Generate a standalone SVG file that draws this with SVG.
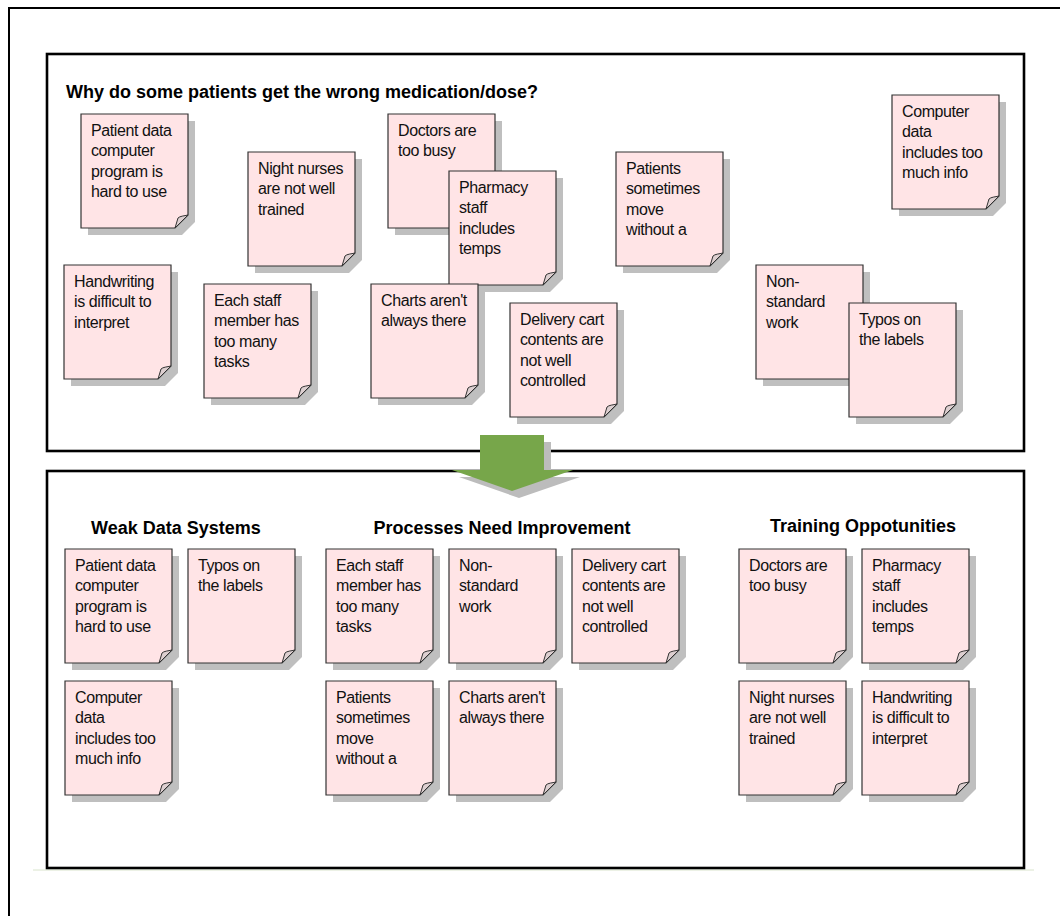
<svg xmlns="http://www.w3.org/2000/svg" width="1060" height="916" viewBox="0 0 1060 916">
  <style>
    .frame { fill: none; stroke: #000; stroke-width: 2; }
    .panel { fill: none; stroke: #000; stroke-width: 2.6; }
    .paper { fill: #ffe4e6; stroke: #333; stroke-width: 1.2; }
    .shadow { fill: #bfbfbf; }
    .fold { fill: #ddcfd0; stroke: #333; stroke-width: 1; }
    .nt { font-family: "Liberation Sans", Arial, sans-serif; font-size: 16px; letter-spacing: -0.4px; fill: #111; }
    .hd { font-family: "Liberation Sans", Arial, sans-serif; font-size: 18px; font-weight: bold; fill: #000; }
  </style>
  <defs>
    <!-- sticky note: 107 x 114 with a cut bottom-right corner -->
    <path id="paper" d="M0,0 H107 V101 L94,114 H0 Z"/>
    <path id="fold" d="M107,101 C103,102 99,102 97,104 C96,107 95,111 94,114 Z"/>
    <g id="note-base">
      <use href="#paper" class="shadow" transform="translate(7,7)"/>
      <use href="#paper" class="paper"/>
      <use href="#fold" class="fold"/>
    </g>
  </defs>

  <rect width="1060" height="916" fill="#fff"/>

  <!-- outer frame -->
  <path class="frame" d="M9,916 V8 H1060"/>
  <line x1="33" y1="870" x2="1034" y2="870" stroke="#d9e4cc" stroke-width="1"/>

  <!-- panels -->
  <rect class="panel" x="47" y="54" width="977" height="397"/>
  <rect class="panel" x="47" y="471" width="977" height="397"/>

  <!-- down arrow between panels -->
  <g id="arrow">
    <polygon points="487,442 551,442 551,477 580,477 519,498 459,477 487,477" fill="#bcbcbc"/>
    <polygon points="480,435 544,435 544,470 573,470 512,491 452,470 480,470" fill="#77a64a"/>
  </g>

  <text class="hd" x="66" y="98">Why do some patients get the wrong medication/dose?</text>

  <!-- notes: unsorted causes -->
  <g id="n-patient-data-top" transform="translate(81,114)">
    <use href="#note-base"/>
    <text class="nt" y="21.5"><tspan x="10">Patient data</tspan><tspan x="10" dy="20.5">computer</tspan><tspan x="10" dy="20.5">program is</tspan><tspan x="10" dy="20.5">hard to use</tspan></text>
  </g>
  <g id="n-night-nurses-top" transform="translate(248,152)">
    <use href="#note-base"/>
    <text class="nt" y="21.5"><tspan x="10">Night nurses</tspan><tspan x="10" dy="20.5">are not well</tspan><tspan x="10" dy="20.5">trained</tspan></text>
  </g>
  <g id="n-doctors-top" transform="translate(388,114)">
    <use href="#note-base"/>
    <text class="nt" y="21.5"><tspan x="10">Doctors are</tspan><tspan x="10" dy="20.5">too busy</tspan></text>
  </g>
  <g id="n-pharmacy-top" transform="translate(449,171)">
    <use href="#note-base"/>
    <text class="nt" y="21.5"><tspan x="10">Pharmacy</tspan><tspan x="10" dy="20.5">staff</tspan><tspan x="10" dy="20.5">includes</tspan><tspan x="10" dy="20.5">temps</tspan></text>
  </g>
  <g id="n-patients-move-top" transform="translate(616,152)">
    <use href="#note-base"/>
    <text class="nt" y="21.5"><tspan x="10">Patients</tspan><tspan x="10" dy="20.5">sometimes</tspan><tspan x="10" dy="20.5">move</tspan><tspan x="10" dy="20.5">without a</tspan></text>
  </g>
  <g id="n-computer-data-top" transform="translate(892,95)">
    <use href="#note-base"/>
    <text class="nt" y="21.5"><tspan x="10">Computer</tspan><tspan x="10" dy="20.5">data</tspan><tspan x="10" dy="20.5">includes too</tspan><tspan x="10" dy="20.5">much info</tspan></text>
  </g>
  <g id="n-handwriting-top" transform="translate(64,265)">
    <use href="#note-base"/>
    <text class="nt" y="21.5"><tspan x="10">Handwriting</tspan><tspan x="10" dy="20.5">is difficult to</tspan><tspan x="10" dy="20.5">interpret</tspan></text>
  </g>
  <g id="n-each-staff-top" transform="translate(204,284)">
    <use href="#note-base"/>
    <text class="nt" y="21.5"><tspan x="10">Each staff</tspan><tspan x="10" dy="20.5">member has</tspan><tspan x="10" dy="20.5">too many</tspan><tspan x="10" dy="20.5">tasks</tspan></text>
  </g>
  <g id="n-charts-top" transform="translate(371,284)">
    <use href="#note-base"/>
    <text class="nt" y="21.5"><tspan x="10">Charts aren't</tspan><tspan x="10" dy="20.5">always there</tspan></text>
  </g>
  <g id="n-delivery-top" transform="translate(510,303)">
    <use href="#note-base"/>
    <text class="nt" y="21.5"><tspan x="10">Delivery cart</tspan><tspan x="10" dy="20.5">contents are</tspan><tspan x="10" dy="20.5">not well</tspan><tspan x="10" dy="20.5">controlled</tspan></text>
  </g>
  <g id="n-non-standard-top" transform="translate(756,265)">
    <use href="#note-base"/>
    <text class="nt" y="21.5"><tspan x="10">Non-</tspan><tspan x="10" dy="20.5">standard</tspan><tspan x="10" dy="20.5">work</tspan></text>
  </g>
  <g id="n-typos-top" transform="translate(849,303)">
    <use href="#note-base"/>
    <text class="nt" y="21.5"><tspan x="10">Typos on</tspan><tspan x="10" dy="20.5">the labels</tspan></text>
  </g>

  <!-- grouped categories -->
  <text class="hd" x="176" y="534" text-anchor="middle">Weak Data Systems</text>
  <text class="hd" x="502" y="534" text-anchor="middle">Processes Need Improvement</text>
  <text class="hd" x="863" y="532" text-anchor="middle">Training Oppotunities</text>

  <g id="n-patient-data" transform="translate(65,549)">
    <use href="#note-base"/>
    <text class="nt" y="21.5"><tspan x="10">Patient data</tspan><tspan x="10" dy="20.5">computer</tspan><tspan x="10" dy="20.5">program is</tspan><tspan x="10" dy="20.5">hard to use</tspan></text>
  </g>
  <g id="n-typos" transform="translate(188,549)">
    <use href="#note-base"/>
    <text class="nt" y="21.5"><tspan x="10">Typos on</tspan><tspan x="10" dy="20.5">the labels</tspan></text>
  </g>
  <g id="n-computer-data" transform="translate(65,681)">
    <use href="#note-base"/>
    <text class="nt" y="21.5"><tspan x="10">Computer</tspan><tspan x="10" dy="20.5">data</tspan><tspan x="10" dy="20.5">includes too</tspan><tspan x="10" dy="20.5">much info</tspan></text>
  </g>

  <g id="n-each-staff" transform="translate(326,549)">
    <use href="#note-base"/>
    <text class="nt" y="21.5"><tspan x="10">Each staff</tspan><tspan x="10" dy="20.5">member has</tspan><tspan x="10" dy="20.5">too many</tspan><tspan x="10" dy="20.5">tasks</tspan></text>
  </g>
  <g id="n-non-standard" transform="translate(449,549)">
    <use href="#note-base"/>
    <text class="nt" y="21.5"><tspan x="10">Non-</tspan><tspan x="10" dy="20.5">standard</tspan><tspan x="10" dy="20.5">work</tspan></text>
  </g>
  <g id="n-delivery" transform="translate(572,549)">
    <use href="#note-base"/>
    <text class="nt" y="21.5"><tspan x="10">Delivery cart</tspan><tspan x="10" dy="20.5">contents are</tspan><tspan x="10" dy="20.5">not well</tspan><tspan x="10" dy="20.5">controlled</tspan></text>
  </g>
  <g id="n-patients-move" transform="translate(326,681)">
    <use href="#note-base"/>
    <text class="nt" y="21.5"><tspan x="10">Patients</tspan><tspan x="10" dy="20.5">sometimes</tspan><tspan x="10" dy="20.5">move</tspan><tspan x="10" dy="20.5">without a</tspan></text>
  </g>
  <g id="n-charts" transform="translate(449,681)">
    <use href="#note-base"/>
    <text class="nt" y="21.5"><tspan x="10">Charts aren't</tspan><tspan x="10" dy="20.5">always there</tspan></text>
  </g>

  <g id="n-doctors" transform="translate(739,549)">
    <use href="#note-base"/>
    <text class="nt" y="21.5"><tspan x="10">Doctors are</tspan><tspan x="10" dy="20.5">too busy</tspan></text>
  </g>
  <g id="n-pharmacy" transform="translate(862,549)">
    <use href="#note-base"/>
    <text class="nt" y="21.5"><tspan x="10">Pharmacy</tspan><tspan x="10" dy="20.5">staff</tspan><tspan x="10" dy="20.5">includes</tspan><tspan x="10" dy="20.5">temps</tspan></text>
  </g>
  <g id="n-night-nurses" transform="translate(739,681)">
    <use href="#note-base"/>
    <text class="nt" y="21.5"><tspan x="10">Night nurses</tspan><tspan x="10" dy="20.5">are not well</tspan><tspan x="10" dy="20.5">trained</tspan></text>
  </g>
  <g id="n-handwriting" transform="translate(862,681)">
    <use href="#note-base"/>
    <text class="nt" y="21.5"><tspan x="10">Handwriting</tspan><tspan x="10" dy="20.5">is difficult to</tspan><tspan x="10" dy="20.5">interpret</tspan></text>
  </g>

  <!-- no connectors in this chart; the arrow above is the only link -->
  <g id="connectors"/>
</svg>
